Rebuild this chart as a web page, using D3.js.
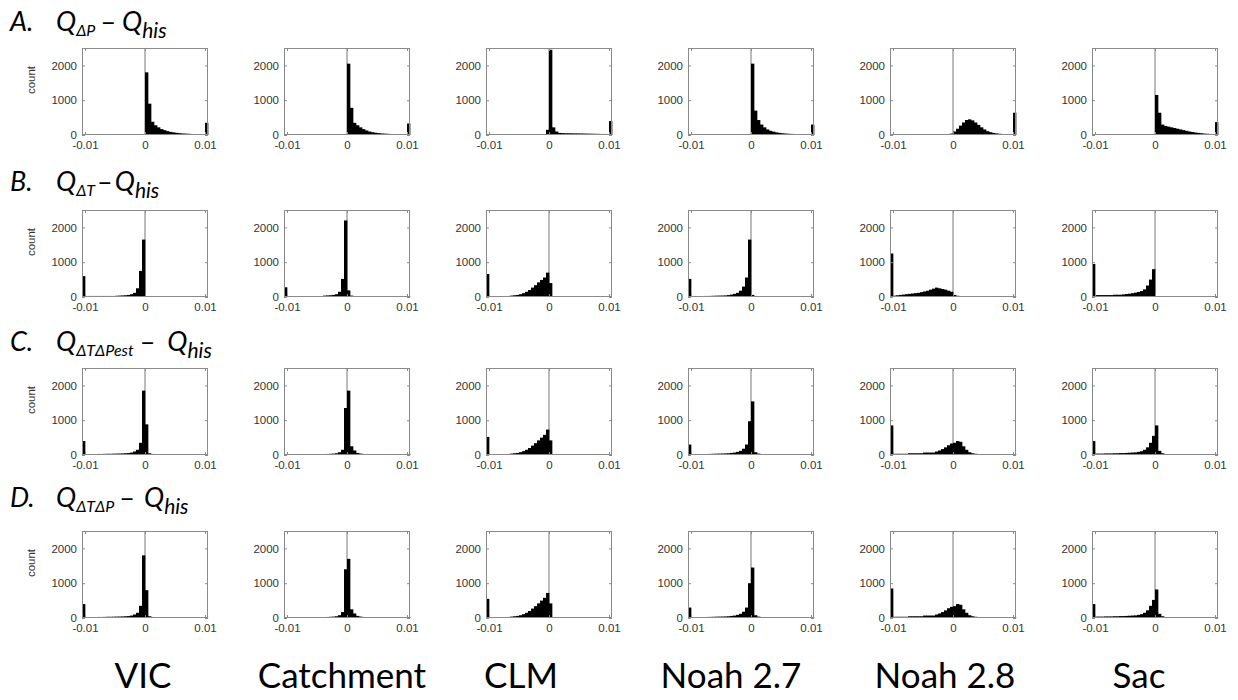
<!DOCTYPE html>
<html>
<head>
<meta charset="utf-8">
<script src="https://cdn.jsdelivr.net/npm/d3@7"></script>
<style>
  html, body { margin: 0; padding: 0; background: #fff; }
  svg { display: block; }
</style>
</head>
<body>
<svg id="chart" width="1238" height="700"></svg>
<script>
// ---------------- DATA ----------------
const models = ["VIC", "Catchment", "CLM", "Noah 2.7", "Noah 2.8", "Sac"];
const rowLetters = ["A.", "B.", "C.", "D."];
const rowSubscripts = ["ΔP", "ΔT", "ΔTΔPest", "ΔTΔP"];
const yTickValues = [0, 1000, 2000];
const xTickValues = [-0.01, 0, 0.01];
const xTickLabels = ["-0.01", "0", "0.01"];
const binStart = -0.0105;      // left edge of first bin
const binWidth = 0.0005;       // 42 bins to +0.0105
const xExtent = [-0.0105, 0.0105];
const yExtent = [0, 2500];

// counts per bin (42 bins), one list per model, one array per row
const countsA = [
  [0,0,0,0,0,0,0,0,0,0, 0,0,0,0,0,0,0,0,0,0, 0,1800,900,380,280,220,170,140,110,90, 75,62,52,45,40,35,30,28,25,22, 20,350],
  [0,0,0,0,0,0,0,0,0,0, 0,0,0,0,0,0,0,0,0,0, 0,2050,780,350,280,220,170,130,100,80, 65,55,45,40,35,30,28,25,22,20, 18,330],
  [0,0,0,0,0,0,0,0,0,0, 0,0,0,0,0,0,0,0,0,0, 150,2450,220,100,60,55,50,50,48,46, 45,44,42,40,38,36,34,32,30,30, 30,400],
  [0,0,0,0,0,0,0,0,0,0, 0,0,0,0,0,0,0,0,0,0, 0,2050,700,430,300,220,160,120,95,75, 60,50,42,36,32,28,25,22,20,18, 16,300],
  [20,20,20,20,10,10,10,10,10,10, 10,10,10,10,20,20,20,20,25,30, 40,100,180,270,360,430,450,420,360,290, 220,160,110,80,60,45,35,30,25,25, 30,640],
  [0,0,0,0,0,0,0,0,0,0, 0,0,0,0,0,0,0,0,0,0, 0,1150,640,300,260,240,220,200,180,160, 140,120,100,85,70,60,50,40,35,30, 25,370]
];
const countsB = [
  [600,30,30,30,30,30,30,30,30,30, 30,35,40,45,50,60,80,120,250,750, 1650,0,0,0,0,0,0,0,0,0, 0,0,0,0,0,0,0,0,0,0, 0,0],
  [280,25,25,25,25,25,25,25,25,25, 25,25,25,40,45,50,60,80,150,520, 2200,190,40,15,15,15,15,15,15,15, 15,15,15,15,15,15,15,15,15,15, 15,20],
  [660,20,20,20,20,20,25,30,40,50, 60,80,110,150,200,270,340,420,490,560, 700,400,10,0,0,0,0,0,0,0, 0,0,0,0,0,0,0,0,0,0, 0,0],
  [520,25,25,25,28,30,30,32,35,38, 40,42,45,55,70,90,120,180,300,560, 1650,60,30,15,15,15,5,5,5,5, 5,5,5,5,5,5,5,5,5,5, 5,5],
  [1250,40,50,60,70,80,90,100,110,120, 140,160,180,210,240,270,250,230,210,180, 150,60,35,25,20,15,15,15,15,15, 15,8,8,8,8,8,8,8,8,8, 8,8],
  [950,55,55,55,55,55,55,65,65,65, 75,85,95,110,125,145,170,220,330,500, 800,10,0,0,0,0,0,0,0,0, 0,0,0,0,0,0,0,0,0,0, 0,0]
];
const countsC = [
  [400,25,25,28,28,30,30,32,35,35, 38,40,42,45,50,55,70,100,150,350, 1850,880,50,30,15,15,15,15,15,8, 8,8,8,8,8,8,8,8,8,8, 8,8],
  [30,20,20,20,20,20,20,20,20,20, 20,20,20,25,30,35,40,50,80,150, 1350,1850,250,130,60,40,30,25,20,20, 20,20,15,15,15,15,15,15,15,15, 15,30],
  [520,20,20,20,20,20,25,30,40,50, 60,80,110,150,200,270,340,420,500,580, 730,420,10,0,0,0,0,0,0,0, 0,0,0,0,0,0,0,0,0,0, 0,0],
  [300,25,25,25,25,28,30,32,35,38, 40,42,45,50,60,70,90,120,180,300, 970,1540,80,40,25,15,15,15,15,15, 15,15,15,15,15,15,15,15,15,15, 15,15],
  [850,35,35,35,35,35,50,50,50,50, 50,70,70,70,70,100,130,170,220,280, 330,350,400,380,250,150,80,50,35,25, 25,25,25,15,15,15,15,15,15,15, 15,15],
  [400,40,40,40,45,45,45,50,50,55, 55,60,65,70,75,90,110,150,220,350, 550,850,120,50,25,10,10,10,10,10, 10,10,10,10,10,10,10,10,10,10, 10,10]
];
const countsD = [
  [400,25,25,28,28,30,30,32,35,35, 38,40,42,45,50,55,70,100,150,350, 1800,800,50,30,15,15,15,15,15,8, 8,8,8,8,8,8,8,8,8,8, 8,8],
  [30,20,20,20,20,20,20,20,20,20, 20,20,20,25,30,35,40,50,80,170, 1400,1700,250,130,60,40,30,25,20,20, 20,20,15,15,15,15,15,15,15,15, 15,30],
  [550,20,20,20,20,20,25,30,40,50, 60,80,110,150,200,270,340,420,500,580, 720,420,10,0,0,0,0,0,0,0, 0,0,0,0,0,0,0,0,0,0, 0,0],
  [300,25,25,25,25,28,30,32,35,38, 40,42,45,50,60,70,90,120,180,300, 1000,1450,80,40,25,15,15,15,15,15, 15,15,15,15,15,15,15,15,15,15, 15,15],
  [850,35,35,35,35,35,50,50,50,50, 50,70,70,70,70,100,130,170,220,280, 320,340,400,380,250,150,80,50,35,25, 25,25,25,15,15,15,15,15,15,15, 15,15],
  [400,40,40,40,45,45,45,50,50,55, 55,60,65,70,75,90,110,150,220,350, 520,820,120,50,25,10,10,10,10,10, 10,10,10,10,10,10,10,10,10,10, 10,10]
];
const rowCounts = [countsA, countsB, countsC, countsD];

// ---------------- LAYOUT ----------------
const colLeft = [82, 284, 486, 688, 890, 1092];
const rowTop = [48, 210, 368, 531];
const panelW = 126, panelH = 87;
const titleBaseline = [31, 191, 351, 507];
const titleMinusGap = [5, 2, 6, 5];
const titleQ2Gap = [6, 2, 12, 9];
const colLabelX = [143, 342, 521, 731, 945, 1139];

const svg = d3.select("#chart");
const frameColor = "#8a8a8a";
const tickFont = "'Liberation Sans', Arial, sans-serif";
const titleFont = "Lato, 'Open Sans', sans-serif";

// ---------------- PANELS ----------------
rowCounts.forEach((rowData, r) => {
  rowData.forEach((counts, c) => {
    const g = svg.append("g").attr("transform", `translate(${colLeft[c]},${rowTop[r]})`);
    const x = d3.scaleLinear().domain(xExtent).range([0, panelW]);
    const y = d3.scaleLinear().domain(yExtent).range([panelH, 0]);

    // zero line
    g.append("line")
      .attr("x1", x(0)).attr("x2", x(0))
      .attr("y1", 0).attr("y2", panelH)
      .attr("stroke", "#777").attr("stroke-width", 1);

    // bars
    g.selectAll("rect.bar").data(counts).join("rect")
      .attr("class", "bar")
      .attr("x", (d, i) => x(binStart + i * binWidth))
      .attr("width", (d, i) => x(binStart + (i + 1) * binWidth) - x(binStart + i * binWidth) + 0.35)
      .attr("y", d => y(Math.min(d, yExtent[1])))
      .attr("height", d => panelH - y(Math.min(d, yExtent[1])))
      .attr("fill", "#000");

    // axes
    const axL = d3.axisLeft(y).tickValues(yTickValues).tickSizeInner(-3).tickSizeOuter(0).tickPadding(5).tickFormat(d3.format("d"));
    const axR = d3.axisRight(y).tickValues(yTickValues).tickSizeInner(-3).tickSizeOuter(0).tickFormat("");
    const axB = d3.axisBottom(x).tickValues(xTickValues).tickSizeInner(-3).tickSizeOuter(0).tickPadding(6)
      .tickFormat((d, i) => xTickLabels[i]);
    const axT = d3.axisTop(x).tickValues(xTickValues).tickSizeInner(-3).tickSizeOuter(0).tickFormat("");

    const style = sel => {
      sel.select(".domain").remove();
      sel.selectAll(".tick line").attr("stroke", frameColor);
      sel.selectAll(".tick text").attr("fill", "#333").style("font-family", tickFont).style("font-size", "11.5px");
    };
    g.append("g").call(axL).call(style);
    g.append("g").attr("transform", `translate(${panelW},0)`).call(axR).call(style);
    g.append("g").attr("transform", `translate(0,${panelH})`).call(axB).call(style);
    g.append("g").call(axT).call(style);

    // frame
    g.append("rect")
      .attr("x", 0.5).attr("y", 0.5).attr("width", panelW - 1).attr("height", panelH - 1)
      .attr("fill", "none").attr("stroke", frameColor).attr("stroke-width", 1);

    if (c === 0) {
      g.append("text")
        .attr("transform", `translate(${-47},${32}) rotate(-90)`)
        .attr("text-anchor", "middle")
        .style("font-family", tickFont).style("font-size", "11.5px").attr("fill", "#333")
        .text("count");
    }
  });

  // row title
  const t = svg.append("text")
    .attr("x", 10).attr("y", titleBaseline[r])
    .style("font-family", titleFont)
    .style("font-style", "italic").style("font-size", "27px").attr("fill", "#000");
  t.append("tspan").text(rowLetters[r]);
  t.append("tspan").attr("x", 56).text("Q");
  t.append("tspan").attr("dy", 5).style("font-size", "16px").text(rowSubscripts[r]);
  t.append("tspan").attr("dx", titleMinusGap[r]).attr("dy", -5).style("font-style", "normal").text("\u2013");
  t.append("tspan").attr("dx", titleQ2Gap[r]).text("Q");
  t.append("tspan").attr("dy", 7).style("font-size", "21px").text("his");
});

// column labels
svg.selectAll("text.col").data(models).join("text")
  .attr("class", "col")
  .attr("x", (d, i) => colLabelX[i])
  .attr("y", 688)
  .attr("text-anchor", "middle")
  .style("font-family", titleFont)
  .style("font-size", "35px").attr("fill", "#000")
  .text(d => d);
</script>
</body>
</html>
